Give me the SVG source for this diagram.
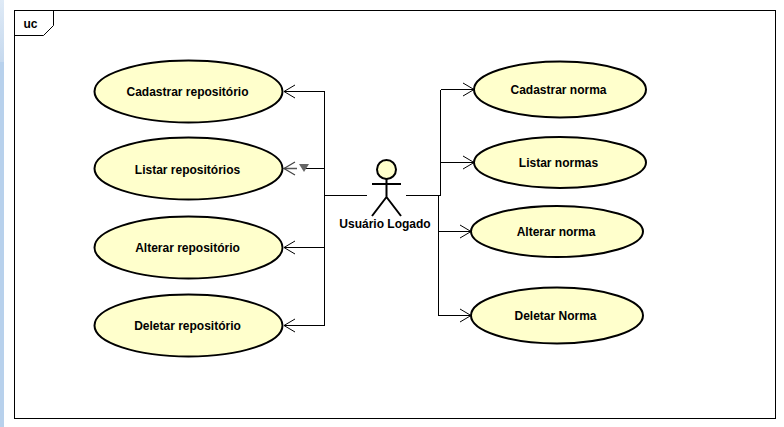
<svg xmlns="http://www.w3.org/2000/svg" width="784" height="427" viewBox="0 0 784 427">
<style>
.f{fill:none;stroke:#000;stroke-width:1}
.u{fill:#ffffcc;stroke:#000;stroke-width:2}
.t{font-family:"Liberation Sans",Arial,sans-serif;font-size:12px;font-weight:bold;fill:#000;text-anchor:middle}
.c{fill:none;stroke:#000;stroke-width:1;shape-rendering:crispEdges}
.h{fill:none;stroke:#000;stroke-width:1}
</style>
<defs><linearGradient id="s" x1="0" y1="0" x2="0" y2="1"><stop offset="0" stop-color="#dfeaf6"/><stop offset="1" stop-color="#c6d9ee"/></linearGradient></defs>
<rect width="784" height="427" fill="#fff"/>
<rect x="0" y="0" width="4" height="62" fill="url(#s)"/>
<rect x="0" y="62" width="4" height="365" fill="#b8d1ec"/>
<g id="frame">
<rect x="14.500" y="10.500" width="761" height="408" class="c"/>
<path d="M14.500 35.500H43.500L53.500 25.500V10.500" class="f"/>
<text x="30.500" y="28" class="t">uc</text>
</g>
<g id="connectors">
<path class="c" d="M367 195.500H324.500M324.500 91.500V325.500M324.500 91.500H284M324.500 168.500H304M324.500 247.500H284M324.500 325.500H284"/>
<path d="M284 168.500H297" fill="none" stroke="#555" stroke-width="1.500"/>
<path class="h" d="M295 85L284 91.500L295 98M295 241L284 247.500L295 254M295 319L284 325.500L295 332"/>
<path d="M295 162L284 168.500L295 175" fill="none" stroke="#444" stroke-width="1.200"/>
<polygon points="299,164 309,164 304,172" fill="#666"/>
<path class="c" d="M406 195.500H440.500M440.500 195.500V89.500M440.500 89.500H474M440.500 162.500H474M438.500 195.500V315.500M438.500 231.500H471M438.500 315.500H471"/>
<path class="h" d="M463 83L474 89.500L463 96M463 156L474 162.500L463 169M460 225L471 231.500L460 238M460 309L471 315.500L460 322"/>
</g>
<g id="actor">
<circle cx="386.500" cy="169.500" r="9.500" fill="#ffffcc" stroke="#000" stroke-width="2"/>
<path d="M386.500 179V197M372 184H401M386.500 197L372 216M386.500 197L401 216" fill="none" stroke="#000" stroke-width="2"/>
<text x="385" y="228" class="t">Usuário Logado</text>
</g>
<g id="uc-cadastrar-repositorio"><ellipse cx="188.500" cy="91.500" rx="94" ry="31" class="u"/><text x="187.500" y="96" class="t">Cadastrar repositório</text></g>
<g id="uc-listar-repositorios"><ellipse cx="188.500" cy="168.500" rx="94" ry="31" class="u"/><text x="187.500" y="174" class="t">Listar repositórios</text></g>
<g id="uc-alterar-repositorio"><ellipse cx="188.500" cy="247.500" rx="94" ry="31" class="u"/><text x="187.500" y="252" class="t">Alterar repositório</text></g>
<g id="uc-deletar-repositorio"><ellipse cx="188.500" cy="325.500" rx="94" ry="31" class="u"/><text x="187.500" y="330" class="t">Deletar repositório</text></g>
<g id="uc-cadastrar-norma"><ellipse cx="560" cy="89.500" rx="86" ry="28" class="u"/><text x="558.500" y="94" class="t">Cadastrar norma</text></g>
<g id="uc-listar-normas"><ellipse cx="560" cy="162.500" rx="86" ry="25.500" class="u"/><text x="558.500" y="167" class="t">Listar normas</text></g>
<g id="uc-alterar-norma"><ellipse cx="557" cy="231.500" rx="86" ry="25.500" class="u"/><text x="556" y="236" class="t">Alterar norma</text></g>
<g id="uc-deletar-norma"><ellipse cx="557" cy="315.500" rx="86" ry="28" class="u"/><text x="555.500" y="320" class="t">Deletar Norma</text></g>
</svg>
